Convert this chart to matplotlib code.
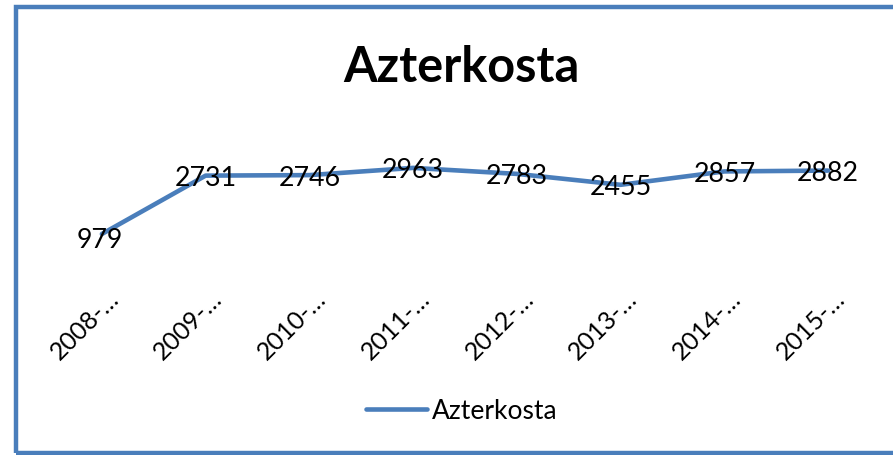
import matplotlib
matplotlib.use("Agg")
import matplotlib.pyplot as plt
import matplotlib.transforms as mtransforms
from matplotlib.patches import Rectangle

plt.rcParams['font.family'] = ['Lato', 'DejaVu Sans']

# datos
categorias = ["2008-…", "2009-…", "2010-…", "2011-…",
              "2012-…", "2013-…", "2014-…", "2015-…"]
valores = [979, 2731, 2746, 2963, 2783, 2455, 2857, 2882]
serie = "Azterkosta"

AZUL = '#4A7EBB'

fig = plt.figure(figsize=(8.93, 4.56), dpi=100)
ax = fig.add_axes([50/893, 1 - 267.6/456, (880 - 50)/893, (267.6 - 151)/456])

x = list(range(len(valores)))
ax.plot(x, valores, color=AZUL, lw=3.3, solid_capstyle='round',
        solid_joinstyle='round', label=serie)

ax.set_xlim(-0.5, len(valores) - 0.5)
ax.set_ylim(0, 3500)

# etiquetas de datos
for i, v in enumerate(valores):
    dx, dy = (-2, -6) if i == 0 else (0, -2)
    ax.annotate(str(v), (i, v), xytext=(dx, dy), textcoords='offset pixels',
                ha='center', va='center', fontsize=19.3, color='black')

ax.set_xticks(x)
ax.set_xticklabels(categorias, rotation=45, ha='right', va='center',
                   rotation_mode='anchor', fontsize=18)
ax.tick_params(axis='x', length=0, pad=20)
offset = mtransforms.ScaledTranslation(13/100, 0, fig.dpi_scale_trans)
for lbl in ax.get_xticklabels():
    lbl.set_transform(lbl.get_transform() + offset)

ax.set_yticks([])
for s in ax.spines.values():
    s.set_visible(False)
ax.patch.set_visible(False)

fig.text(0.517, 1 - 82/456, serie, ha='center', va='baseline',
         fontsize=35, fontweight='bold')

ax.legend(loc='center', bbox_to_anchor=(462/893, 1 - 412/456),
          bbox_transform=fig.transFigure, frameon=False, fontsize=19,
          handlelength=2.3, handletextpad=0.2)

fig.patches.append(Rectangle((16/893, 1 - 453.5/456), 1.02, (453.5 - 7.5)/456,
                             transform=fig.transFigure, fill=False,
                             edgecolor=AZUL, lw=3.2, figure=fig))

fig.savefig('out.png', dpi=100)
